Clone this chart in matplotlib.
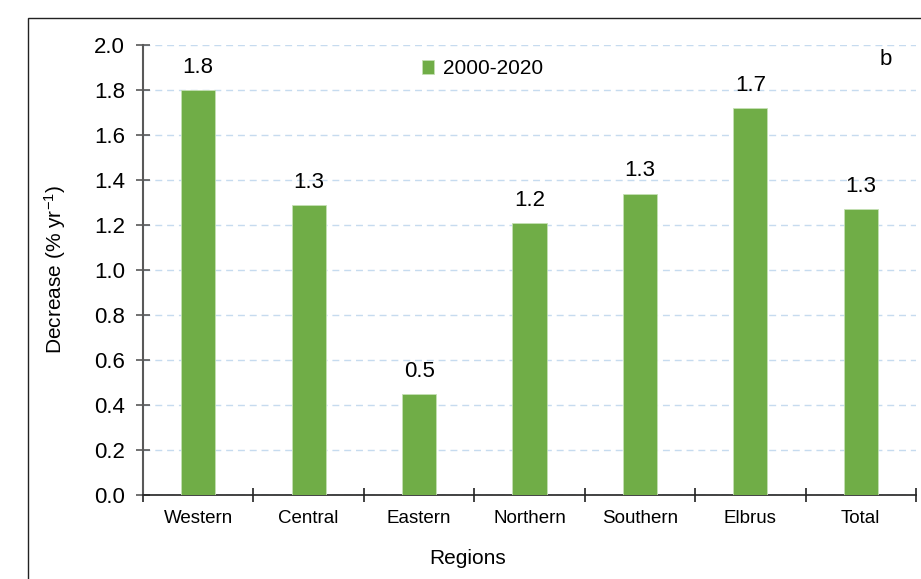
import matplotlib.pyplot as plt
from matplotlib.patches import Rectangle

plt.rcParams['font.family'] = ['Liberation Sans', 'DejaVu Sans']
plt.rcParams['mathtext.fontset'] = 'custom'
plt.rcParams['mathtext.rm'] = 'Liberation Sans'

## Data

regions = ['Western', 'Central', 'Eastern', 'Northern', 'Southern', 'Elbrus', 'Total']
decrease = [1.80, 1.29, 0.45, 1.21, 1.34, 1.72, 1.27]
labels = ['1.8', '1.3', '0.5', '1.2', '1.3', '1.7', '1.3']
yticks = [0.0, 0.2, 0.4, 0.6, 0.8, 1.0, 1.2, 1.4, 1.6, 1.8, 2.0]

green = '#70AD47'
axis_col = '#595959'

## Figure

fig = plt.figure(figsize=(9.21, 5.79), dpi=100)
ax = fig.add_axes([143 / 921, 84 / 579, 773 / 921, 450 / 579])

# outer frame (cut off on the right and bottom like the source)
fig.patches.append(Rectangle((28 / 921, -0.2), 1.2, (579 - 18) / 579 + 0.2,
                             transform=fig.transFigure, fill=False,
                             edgecolor='#222222', linewidth=1.0))

x = range(len(regions))
bars = ax.bar(x, decrease, width=0.31, color=green, edgecolor='#C5E0B4',
              linewidth=0.6, label='2000-2020', zorder=3)

for xi, v, lab in zip(x, decrease, labels):
    ax.text(xi, v + 0.1, lab, ha='center', va='center', fontsize=16)

## Axes

ax.set_xlim(-0.5, len(regions) - 0.5)
ax.set_ylim(0, 2.0)
ax.set_yticks(yticks)
ax.set_yticklabels(['%.1f' % t for t in yticks], fontsize=16)
ax.yaxis.grid(True, color='#C6DBEF', linestyle=(0, (5, 3.5)), linewidth=1.0, zorder=0)
ax.set_axisbelow(True)

ax.set_xticks([i - 0.5 for i in range(len(regions) + 1)])
ax.set_xticklabels([])
ax.set_xticks(list(x), minor=True)
ax.set_xticklabels(regions, minor=True, fontsize=13.5)
ax.tick_params(axis='x', which='minor', length=0, pad=11)
ax.tick_params(axis='x', which='major', direction='inout', length=10,
               width=1.2, color='#222222')
ax.tick_params(axis='y', direction='inout', length=10, width=1.2,
               color=axis_col, pad=8)

for s in ['top', 'right']:
    ax.spines[s].set_visible(False)
ax.spines['left'].set_color(axis_col)
ax.spines['left'].set_linewidth(1.5)
ax.spines['bottom'].set_color('#222222')
ax.spines['bottom'].set_linewidth(1.2)

ax.text(-0.114, 0.5, r'Decrease (% yr$\mathregular{^{-1}}$)', transform=ax.transAxes,
        rotation=90, ha='center', va='center', fontsize=15)
ax.text(0.42, -0.142, 'Regions', transform=ax.transAxes,
        ha='center', va='center', fontsize=15)

ax.legend(loc='center', bbox_to_anchor=(0.439, 0.947), frameon=False,
          fontsize=15, handlelength=0.6, handleheight=0.6, handletextpad=0.4)

ax.text(0.961, 0.967, 'b', transform=ax.transAxes, fontsize=16,
        ha='center', va='center')

fig.savefig('out.png', dpi=100)
